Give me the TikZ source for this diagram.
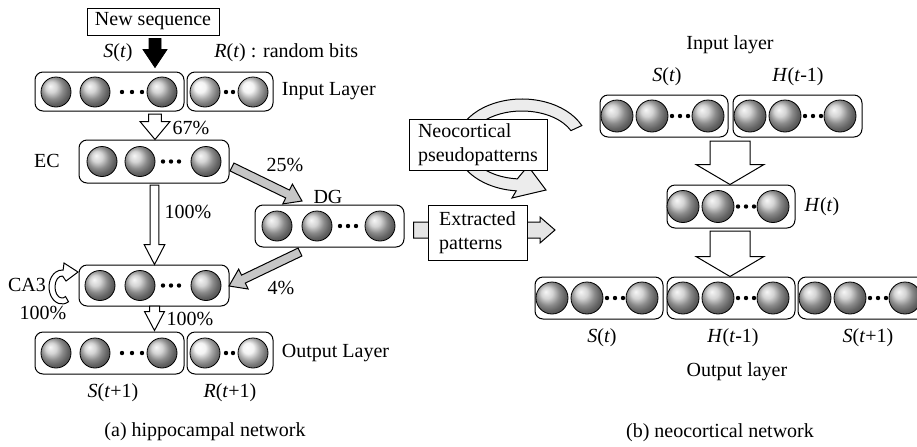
\documentclass[tikz,border=0pt]{standalone}
\usepackage{fontspec}
\setmainfont{Liberation Serif}
\usetikzlibrary{positioning,calc,fit}

\tikzset{
layer/.style={draw, rounded corners=4pt, inner sep=0pt, line width=0.5pt},
neuron/.style={circle, draw, shade, shading=ball, ball color=#1,
  minimum size=15pt, inner sep=0pt, line width=0.4pt},
neuron/.default=gray!45,
txt/.style={font=\fontsize{10}{12}\selectfont, inner sep=1pt},
textbox/.style={draw, fill=white, font=\fontsize{10}{12}\selectfont,
  inner sep=2pt, line width=0.5pt},
openarrow/.style={draw, fill=white, line width=0.5pt},
grayarrow/.style={draw, fill=gray!45, line width=0.5pt},
}

% row of balls with the dots in between
\newcommand\spheres[4]{%
  \foreach \x in {#3} \node[neuron, #1] at (\x,#2) {};
  \foreach \x in {#4} \fill (\x,#2) circle (1.1pt);
}

% block arrow: [style] from to shaft head headlength
\newcommand\fatarrow[6][]{%
  \coordinate (fa-b) at ($(#3)!#6!(#2)$);
  \draw[#1] ($(#2)!#4!90:(#3)$) -- ($(fa-b)!#4!-90:(#2)$) -- ($(fa-b)!#5!-90:(#2)$)
    -- (#3) -- ($(fa-b)!#5!90:(#2)$) -- ($(fa-b)!#4!90:(#2)$) -- ($(#2)!#4!-90:(#3)$) -- cycle;
}

\begin{document}
\begin{tikzpicture}[x=0.5pt, y=-0.5pt]
\useasboundingbox (0,0) rectangle (917,446);
\clip (0,0) rectangle (917,446);

%% (a) hippocampal network
\node[textbox, minimum width=66pt, minimum height=13.5pt] (newseq) at (153,21.5) {New sequence};
\node[txt] (st) at (118,53) {\textit{S}(\textit{t})};
\node[txt, anchor=west] (rt) at (212,53) {\textit{R}(\textit{t}) : random bits};

\node[layer, fit={(35,72) (184,111)}] (inS) {};
\node[layer, fit={(187,72) (273,111)}] (inR) {};
\spheres{}{92}{56,95,162}{122,132,142}
\spheres{neuron=gray!12}{92}{205,253}{226,233}
\node[txt, right=3pt of inR] (inlab) {Input Layer};

\node[layer, fit={(79,140) (229,183)}] (ec) {};
\spheres{}{161.5}{102,140,206}{163,171,179}
\node[txt] (eclab) at (47,161) {EC};

\node[layer, fit={(255,205) (404,247)}] (dg) {};
\spheres{}{226}{277,317,380}{340,348,356}
\node[txt] (dglab) at (328,197) {DG};

\node[layer, fit={(79,265) (229,306)}] (ca3) {};
\spheres{}{285.5}{100,140,206}{163,171,179}
\node[txt] (ca3lab) at (27,285) {CA3};

\node[layer, fit={(35,332) (184,374)}] (outS) {};
\node[layer, fit={(187,332) (273,374)}] (outR) {};
\spheres{}{353}{56,95,162}{122,132,142}
\spheres{neuron=gray!12}{353}{205,253}{226,233}
\node[txt, right=3pt of outR] (outlab) {Output Layer};
\node[txt] (st1) at (113,393) {\textit{S}(\textit{t}+1)};
\node[txt] (rt1) at (230,393) {\textit{R}(\textit{t}+1)};

% arrows between the layers
\coordinate (seqA) at ($(newseq.south)+(2,3)$);
\coordinate (seqB) at ($(seqA |- inS.north)+(0,-4)$);
\fatarrow[fill=black]{seqA}{seqB}{3pt}{6pt}{9pt}
\coordinate (inA) at (155,114);
\coordinate (ecB) at (inA |- ec.north);
\fatarrow[openarrow]{inA}{ecB}{3.2pt}{7.5pt}{9pt}
\coordinate (ecA) at (154.5,185);
\coordinate (ca3B) at (ecA |- ca3.north);
\fatarrow[openarrow]{ecA}{ca3B}{2.2pt}{5.2pt}{10pt}
\coordinate (ca3A) at (154.5,306);
\coordinate (outB) at ($(ca3A |- outS.north)+(0,-1)$);
\fatarrow[openarrow]{ca3A}{outB}{2.5pt}{5pt}{9.5pt}
\coordinate (ecC) at (232,167);
\coordinate (dgB) at (302,201);
\fatarrow[grayarrow]{ecC}{dgB}{2.2pt}{5.5pt}{8pt}
\coordinate (dgC) at (300,252);
\coordinate (ca3C) at (229,286);
\fatarrow[grayarrow]{dgC}{ca3C}{2.2pt}{5.5pt}{8pt}

% recurrent loop of CA3
\coordinate (loopc) at (62,287);
\draw[openarrow] ($(loopc)+(-60:6.5pt and 8.5pt)$) arc[start angle=-60, end angle=-275, x radius=6.5pt, y radius=8.5pt]
  -- (64,263) -- (78,272) -- (66,281)
  -- ($(loopc)+(-275:3.5pt and 5.5pt)$) arc[start angle=-275, end angle=-60, x radius=3.5pt, y radius=5.5pt] -- cycle;

\node[txt] (p67) at (191,128) {67\%};
\node[txt] (p25) at (285,165) {25\%};
\node[txt] (p100a) at (188,212) {100\%};
\node[txt] (p4) at (281,288) {4\%};
\node[txt] (p100b) at (43,313) {100\%};
\node[txt] (p100c) at (190,319) {100\%};

\node[txt] (capa) at (205,432) {(a) hippocampal network};

%% (b) neocortical network
\node[txt] (nilab) at (730,45) {Input layer};
\node[txt] (nst) at (667,77) {\textit{S}(\textit{t})};
\node[txt] (nht) at (798,77) {\textit{H}(\textit{t}-1)};

\node[layer, fit={(600,95) (728,137)}] (nIn1) {};
\node[layer, fit={(733,95) (862,137)}] (nIn2) {};
\spheres{minimum size=16pt}{116}{617,652,708}{672,680,688}
\spheres{minimum size=16pt}{116}{750,785,840}{805,813,821}

\node[layer, fit={(667,185) (795,228)}] (nHid) {};
\spheres{minimum size=16pt}{206.5}{683,718,773}{738,746,754}
\node[txt] (nhlab) at (822,207) {\textit{H}(\textit{t})};

\node[layer, fit={(535,277) (663,319)}] (nOut1) {};
\node[layer, fit={(667,277) (795,319)}] (nOut2) {};
\node[layer, fit={(798,277) (926,319)}] (nOut3) {};
\spheres{minimum size=16pt}{298}{552,587,642}{607,615,623}
\spheres{minimum size=16pt}{298}{683,718,773}{738,746,754}
\spheres{minimum size=16pt}{298}{815,850,905}{870,878,886}

\node[txt] (no1) at (602,338) {\textit{S}(\textit{t})};
\node[txt] (no2) at (733,338) {\textit{H}(\textit{t}-1)};
\node[txt] (no3) at (868,338) {\textit{S}(\textit{t}+1)};
\node[txt] (nolab) at (737,372) {Output layer};

\coordinate (hidA) at (730,141);
\coordinate (hidB) at (hidA |- nHid.north);
\fatarrow[openarrow]{hidA}{hidB}{10pt}{17pt}{10pt}
\coordinate (outA) at (730,231);
\coordinate (outC) at (outA |- nOut2.north);
\fatarrow[openarrow]{outA}{outC}{10pt}{17pt}{10pt}

% pseudopatterns going round
\coordinate (pc) at (522,145);
\draw[fill=gray!15, line width=0.5pt] ($(pc)+(25:33pt and 23pt)$)
  arc[start angle=25, end angle=265, x radius=33pt, y radius=23pt]
  -- (512,198) -- (546,190) -- (528,166)
  -- ($(pc)+(265:27pt and 17pt)$) arc[start angle=265, end angle=25, x radius=27pt, y radius=17pt] -- cycle;
\node[textbox, align=left, minimum width=69pt, minimum height=23pt] (pseudo) at (478,145)
  {Neocortical\\pseudopatterns};

\coordinate (dgD) at ($(dg.east)+(9,4)$);
\coordinate (extB) at (555,230);
\fatarrow[draw, fill=gray!20, line width=0.5pt]{dgD}{extB}{4pt}{6.5pt}{7.5pt}
\node[textbox, align=left, minimum width=49.5pt, minimum height=27.5pt] (extr) at (477.5,232.5)
  {Extracted\\patterns};

\node[txt] (capb) at (720,433) {(b) neocortical network};
\end{tikzpicture}
\end{document}
